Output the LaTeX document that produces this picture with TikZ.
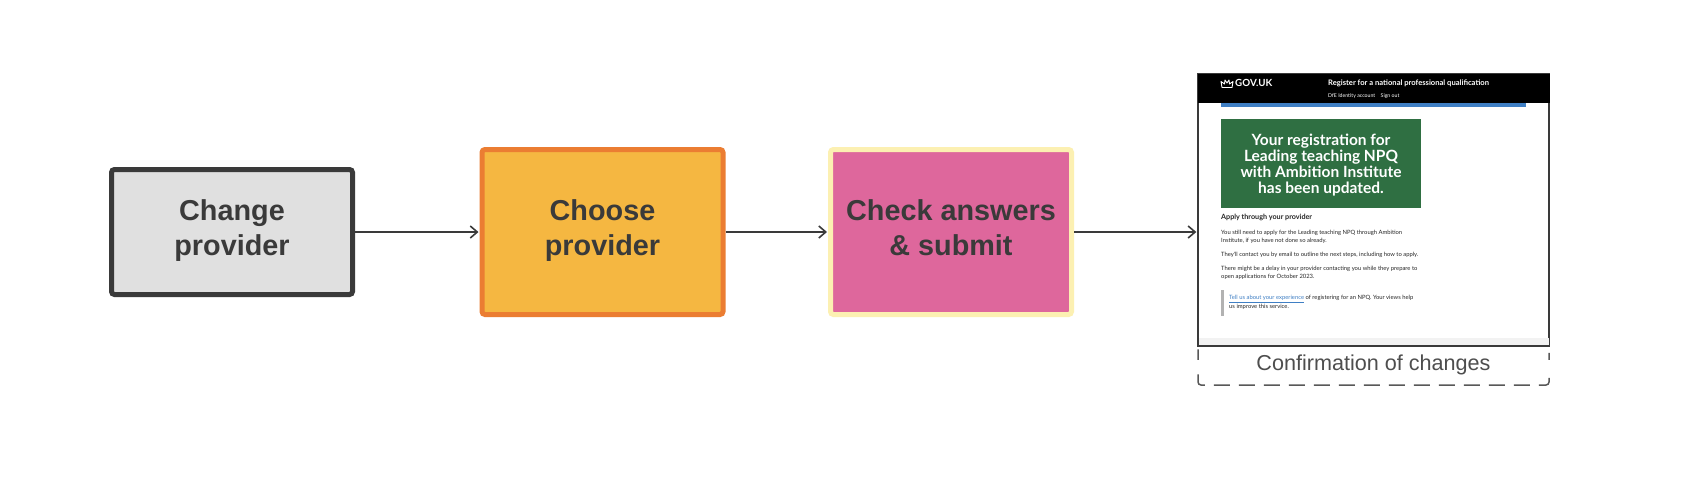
\documentclass[tikz,border=0pt]{standalone}
\usepackage{fontspec}
\setmainfont{Liberation Sans}
\newfontfamily\gds{Lato}
\usetikzlibrary{arrows.meta,calc}
\definecolor{ink}{HTML}{3A3A3A}
\definecolor{govgreen}{HTML}{2F6F42}
\definecolor{govblue}{HTML}{3F7FC4}
\newcommand{\lowdepth}{\rule[-9pt]{0pt}{0pt}}
\tikzset{
  x=1pt,y=-1pt,
  flowbox/.style={draw,rounded corners=3pt,line width=5pt,minimum width=241pt,align=center,
    text=ink,font=\bfseries\fontsize{28.8}{35}\selectfont,inner sep=0pt},
  flowline/.style={draw=ink,line width=1.8pt,shorten >=1pt,-{Straight Barb[length=7pt,width=12pt,line width=1.6pt]}},
  shottext/.style={anchor=west,inner sep=0pt,text=black!85,font=\gds\fontsize{5.85}{7.5}\selectfont},
  headtext/.style={anchor=west,inner sep=0pt,text=white,font=\gds\bfseries},
}
\begin{document}
\begin{tikzpicture}
\useasboundingbox (0,0) rectangle (1698,496);
\fill[white] (0,0) rectangle (1698,496);

\node[flowbox,fill=black!12,draw=ink,minimum height=125pt] (change) at (232,232) {Change\\provider\lowdepth};
\node[flowbox,fill={rgb,255:red,245;green,183;blue,65},draw={rgb,255:red,235;green,125;blue,50},minimum height=165pt] (choose) at (602.5,232) {Choose\\provider\lowdepth};
\node[flowbox,fill={rgb,255:red,222;green,103;blue,156},draw={rgb,255:red,252;green,240;blue,178},minimum height=165pt] (check) at (951,232) {Check answers\\\& submit\lowdepth};

% caption frame: its side dashes break around the caption text
\node[draw=ink!85,line width=1.5pt,dashed,dash pattern=on 16pt off 9pt,rounded corners=3pt,minimum width=351pt,minimum height=39pt,inner sep=0pt] (frame) at (1373.5,365.5) {};
\fill[white] (1195,360) rectangle (1553,371);
\node[text=ink!90,font=\fontsize{21.6}{26}\selectfont,inner sep=0pt] (caption) at (1373.5,364.5) {Confirmation of changes};

% screenshot
\node[draw=ink,fill=white,line width=1.3pt,minimum width=351pt,minimum height=272pt,inner sep=0pt] (shot) at (1373.5,210) {};
\fill[black] (1198,74) rectangle (1550,103);
\fill[govblue] (1221,103) rectangle (1526,107);
\fill[black!5] (1199,338) rectangle (1549,345.3);

% crown
\draw[white,line width=.9pt,line join=round] (1222,87.5) -- (1221,81.5) -- (1224.5,84) -- (1225,80) -- (1227,83) -- (1229,80) -- (1229.5,84) -- (1233,81.5) -- (1232,87.5) -- cycle;
\node[headtext,font=\gds\bfseries\fontsize{9.8}{12}\selectfont] (gov) at (1235,83) {GOV.UK};
\node[headtext,font=\gds\bfseries\fontsize{7.6}{9}\selectfont] (reg) at (1328,83) {Register for a national professional qualification};
\node[headtext,font=\gds\fontsize{5.2}{6}\selectfont] (acct) at (1328,96) {DfE Identity account};
\node[headtext,font=\gds\fontsize{5.2}{6}\selectfont] (out) at (1380.5,96) {Sign out};

\node[fill=govgreen,minimum width=200pt,minimum height=89pt,inner sep=0pt,text=white,align=center,
  font=\gds\bfseries\fontsize{15.5}{16}\selectfont] (panel) at (1321,163.5) {\rule{0pt}{15pt}Your registration for\\Leading teaching NPQ\\with Ambition Institute\\has been updated.};

\node[shottext,font=\gds\bfseries\fontsize{7.2}{9}\selectfont] (h) at (1221,217.5) {Apply through your provider};
\node[shottext] (p1) at (1221,233) {You still need to apply for the Leading teaching NPQ through Ambition};
\node[shottext] (p2) at (1221,240.5) {Institute, if you have not done so already.};
\node[shottext] (p3) at (1221,255) {They'll contact you by email to outline the next steps, including how to apply.};
\node[shottext] (p4) at (1221,269) {There might be a delay in your provider contacting you while they prepare to};
\node[shottext] (p5) at (1221,277) {open applications for October 2023.};
\fill[black!30] (1221,290) rectangle (1224,316);
\node[shottext] (q1) at (1229,299) {{\color{govblue}\underline{Tell us about your experience}} of registering for an NPQ. Your views help};
\node[shottext] (q2) at (1229,307) {us improve this service.};

\path[flowline] (change.east) -- (choose.west);
\path[flowline] (choose.east) -- (check.west);
\path[flowline] (check.east) -- (check.east -| shot.west);
\end{tikzpicture}
\end{document}
